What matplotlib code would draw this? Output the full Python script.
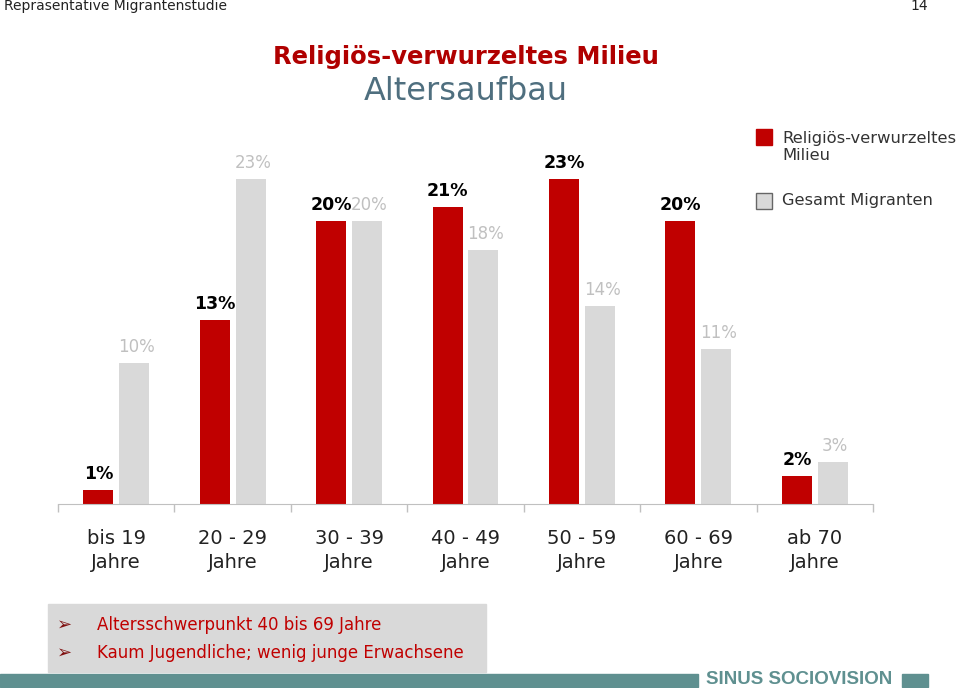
import matplotlib.pyplot as plt
import numpy as np
from matplotlib.patches import Rectangle

# Data
age_groups = ["bis 19\nJahre", "20 - 29\nJahre", "30 - 39\nJahre", "40 - 49\nJahre",
              "50 - 59\nJahre", "60 - 69\nJahre", "ab 70\nJahre"]
milieu = [1, 13, 20, 21, 23, 20, 2]
gesamt = [10, 23, 20, 18, 14, 11, 3]

red = "#c00000"
grey = "#d9d9d9"
teal = "#5f9090"

fig = plt.figure(figsize=(9.6, 6.88), dpi=100)
W, H = 960, 688


def fx(px):
    return px / W


def fy(py):
    return 1 - py / H


# axes placed so that baseline sits at y=504px, x span 58..873px
ax = fig.add_axes([fx(58), fy(504), fx(815), 27 * 14.13 / H])
x = np.arange(len(age_groups))
w = 0.257
off = 0.154
ax.bar(x - off, milieu, width=w, color=red)
ax.bar(x + off, gesamt, width=w, color=grey)

for i in range(len(x)):
    ax.text(x[i] - off, milieu[i] + 0.5, f"{milieu[i]}%", ha="center", va="bottom",
            fontsize=12.5, fontweight="bold", color="black")
    ax.text(x[i] + off + 0.02, gesamt[i] + 0.5, f"{gesamt[i]}%", ha="center", va="bottom",
            fontsize=12, color="#c0c0c0")

ax.set_xlim(-0.5, len(x) - 0.5)
ax.set_ylim(0, 27)
ax.set_yticks([])
ax.set_xticks(np.arange(-0.5, len(x) + 0.5, 1))
ax.set_xticklabels([])
ax.tick_params(axis="x", length=6, color="#c0c0c0", width=1)
ax.set_xticks(x, minor=True)
ax.set_xticklabels(age_groups, minor=True, fontsize=14, color="#222222",
                   linespacing=1.3)
ax.tick_params(axis="x", which="minor", length=0, pad=18)
for s in ["top", "left", "right"]:
    ax.spines[s].set_visible(False)
ax.spines["bottom"].set_color("#c0c0c0")

# header
fig.text(fx(4), fy(6), "Repräsentative Migrantenstudie", fontsize=10, color="#222222",
         va="center", ha="left")
fig.text(fx(928), fy(6), "14", fontsize=10, color="#222222", va="center", ha="right")

# titles
fig.text(fx(466), fy(57), "Religiös-verwurzeltes Milieu", fontsize=17.5, fontweight="bold",
         color="#b00000", ha="center", va="center")
fig.text(fx(466), fy(92), "Altersaufbau", fontsize=23, color="#4f6f7f",
         ha="center", va="center")

# legend
fig.patches.append(Rectangle((fx(756), fy(145)), fx(16), 16 / H, color=red,
                             transform=fig.transFigure, figure=fig))
fig.patches.append(Rectangle((fx(756), fy(209)), fx(16), 16 / H, facecolor=grey,
                             edgecolor="#666666", lw=1,
                             transform=fig.transFigure, figure=fig))
fig.text(fx(782), fy(147), "Religiös-verwurzeltes\nMilieu", fontsize=11.8, color="#333333",
         ha="left", va="center", linespacing=1.25)
fig.text(fx(782), fy(201), "Gesamt Migranten", fontsize=11.7, color="#333333",
         ha="left", va="center")

# bottom box
fig.patches.append(Rectangle((fx(48), fy(672)), fx(438), 68 / H, color="#d9d9d9",
                             transform=fig.transFigure, figure=fig))
notes = ["Altersschwerpunkt 40 bis 69 Jahre", "Kaum Jugendliche; wenig junge Erwachsene"]
for yy, t in zip([625, 653], notes):
    fig.text(fx(57), fy(yy), "➢", fontsize=13, color="#801010", ha="left", va="center",
             family="DejaVu Sans")
    fig.text(fx(97), fy(yy), t, fontsize=12, color="#c00000", ha="left", va="center")

# footer band
fig.patches.append(Rectangle((0, fy(687)), fx(698), 13 / H, color=teal,
                             transform=fig.transFigure, figure=fig))
fig.patches.append(Rectangle((fx(902), fy(687)), fx(26), 13 / H, color=teal,
                             transform=fig.transFigure, figure=fig))
fig.text(fx(799), fy(680), "SINUS SOCIOVISION", fontsize=13.5, fontweight="bold",
         color=teal, ha="center", va="center", family="Liberation Sans")

fig.savefig("out.png", dpi=100)
